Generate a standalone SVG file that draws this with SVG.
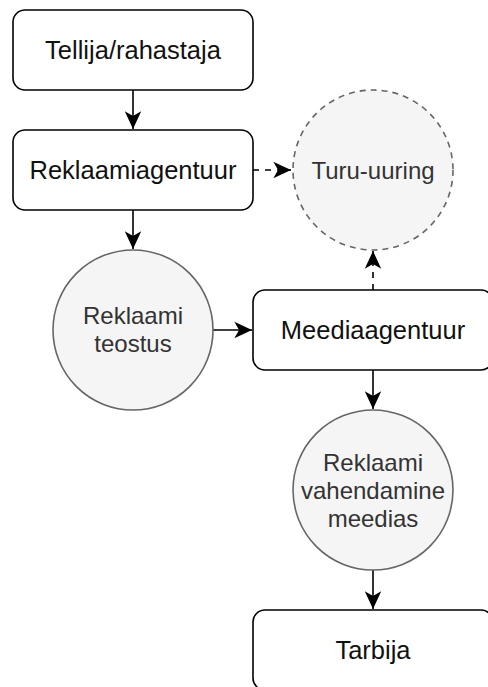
<svg xmlns="http://www.w3.org/2000/svg" width="488" height="687" viewBox="0 0 488 687">
  <style>
    .box { fill: #ffffff; stroke: #000000; stroke-width: 1.6; }
    .circ { fill: #f5f5f5; stroke: #666666; stroke-width: 1.6; }
    .dashc { stroke-dasharray: 6 5; }
    .btxt { font-family: "Liberation Sans", Arial, sans-serif; font-size: 25.5px; fill: #111111; text-anchor: middle; }
    .ctxt { font-family: "Liberation Sans", Arial, sans-serif; font-size: 24px; fill: #333333; text-anchor: middle; }
    .edge { fill: none; stroke: #000000; stroke-width: 1.6; }
    .dash { stroke-dasharray: 6 6; }
  </style>
  <defs>
    <marker id="arrow" markerUnits="userSpaceOnUse" markerWidth="20" markerHeight="20" viewBox="-16 -8 17 16" refX="0" refY="0" orient="auto">
      <path d="M0,0 L-15,-7 L-11,0 L-15,7 Z" fill="#000000" stroke="none"/>
    </marker>
  </defs>
  <rect width="488" height="687" fill="#ffffff"/>
  <g id="connectors">
    <path class="edge" d="M133,90 V129" marker-end="url(#arrow)"/>
    <path class="edge dash" d="M253,170 H291" marker-end="url(#arrow)"/>
    <path class="edge" d="M133,210 V249" marker-end="url(#arrow)"/>
    <path class="edge" d="M213,330 H252" marker-end="url(#arrow)"/>
    <path class="edge dash" d="M373,290 V251" marker-end="url(#arrow)"/>
    <path class="edge" d="M373,370 V409" marker-end="url(#arrow)"/>
    <path class="edge" d="M373,570 V609" marker-end="url(#arrow)"/>
  </g>
  <g id="tellija">
    <rect class="box" x="13" y="10" width="240" height="80" rx="12"/>
    <text class="btxt" x="133" y="59">Tellija/rahastaja</text>
  </g>
  <g id="reklaamiagentuur">
    <rect class="box" x="13" y="130" width="240" height="80" rx="12"/>
    <text class="btxt" x="133" y="179">Reklaamiagentuur</text>
  </g>
  <g id="turu-uuring">
    <circle class="circ dashc" cx="373" cy="170" r="80"/>
    <text class="ctxt" x="373" y="178.5">Turu-uuring</text>
  </g>
  <g id="reklaami-teostus">
    <circle class="circ" cx="133" cy="330" r="80"/>
    <text class="ctxt" x="133" y="324">Reklaami</text>
    <text class="ctxt" x="133" y="352">teostus</text>
  </g>
  <g id="meediaagentuur">
    <rect class="box" x="253" y="290" width="240" height="80" rx="12"/>
    <text class="btxt" x="373" y="339">Meediaagentuur</text>
  </g>
  <g id="reklaami-vahendamine">
    <circle class="circ" cx="373" cy="490" r="80"/>
    <text class="ctxt" x="373" y="470.5">Reklaami</text>
    <text class="ctxt" x="373" y="498.5">vahendamine</text>
    <text class="ctxt" x="373" y="526.5">meedias</text>
  </g>
  <g id="tarbija">
    <rect class="box" x="253" y="610" width="240" height="80" rx="12"/>
    <text class="btxt" x="373" y="659">Tarbija</text>
  </g>
</svg>
